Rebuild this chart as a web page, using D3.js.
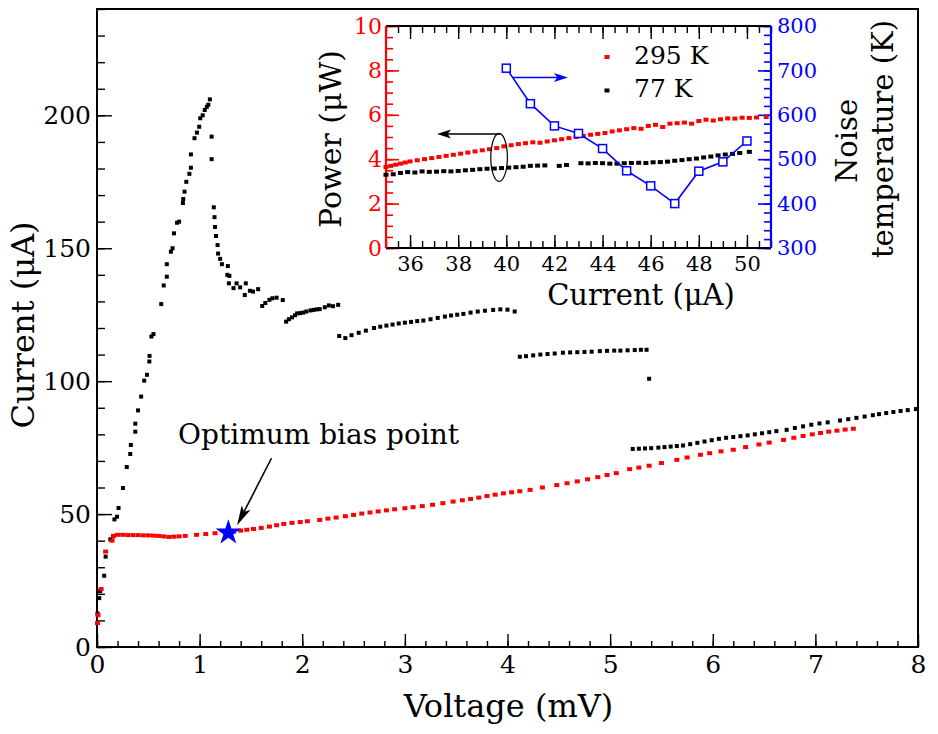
<!DOCTYPE html>
<html><head><meta charset="utf-8">
<script src="https://cdn.jsdelivr.net/npm/d3@7"></script>
<style>
body{margin:0;background:#fff}
svg{display:block}
</style>
</head><body>
<svg id="c" width="938" height="734" font-family="DejaVu Serif, Liberation Serif, serif"></svg>
<script>
// ---------- Main plot data (I–V curves) ----------
const unpumpedV = [0.005,0.022,0.03,0.07,0.084,0.13,0.156,0.17,0.195,0.21,0.253,0.29,0.324,0.33,0.373,0.373,0.40,0.43,0.46,0.487,0.51,0.512,0.53,0.55,0.626,0.65,0.68,0.68,0.72,0.736,0.75,0.78,0.80,0.837,0.84,0.853,0.87,0.90,0.915,0.915,0.95,0.974,0.996,1.006,1.03,1.05,1.07,1.085,1.10,1.117,1.117,1.138,1.145,1.15,1.16,1.175,1.18,1.20,1.217,1.27,1.275,1.29,1.285,1.33,1.36,1.395,1.44,1.45,1.49,1.52,1.57,1.61,1.64,1.68,1.71,1.75,1.81,
1.843,1.87,1.90,1.93,1.95,1.98,2.01,2.04,2.08,2.11,2.14,2.17,2.22,2.26,2.30,2.35,
2.36,2.42,2.48,2.55,2.62,2.70,2.76,2.82,2.88,2.94,3.00,3.06,3.12,3.18,3.25,3.32,3.39,3.45,3.51,3.57,3.64,3.71,3.78,3.86,3.93,4.00,4.07,
4.12,4.18,4.25,4.32,4.39,4.46,4.54,4.61,4.68,4.75,4.82,4.90,4.97,5.04,5.10,5.17,5.24,5.30,5.355,
5.38,
5.22,5.28,5.34,5.40,5.47,5.53,5.59,5.65,5.71,5.78,5.85,5.92,5.99,6.06,6.13,6.20,6.27,6.34,6.41,6.48,6.55,6.62,6.72,6.80,6.88,6.96,7.04,7.12,7.24,7.32,7.40,7.48,7.56,7.62,7.69,7.76,7.83,7.90,7.98];
const unpumpedI = [12.6,18.4,21,26.8,34,40.5,41.6,48,49,52.3,59.8,67.7,72.6,76,81,84,89,94.2,100.2,102.4,107.4,109.5,116.8,117.7,129,136,139.3,144,148.7,150,155.6,159.6,160,167,168.5,171.3,175,178,180.3,185.3,191.4,193.5,195.7,198.9,200,202,203.2,204,206,192,183.5,165.4,161.7,158,154.6,151.2,148,146,144,140,143.3,139.6,136.8,135,136.8,135.3,132.4,136.8,134,133.7,134.6,128.3,129.4,130.6,131.2,131.4,130.5,
122.4,123.3,124,124.8,125.5,125.6,125.8,126.2,126.6,126.8,127,127.1,127.8,128.5,128.2,128.7,
117,116.2,117.3,118.2,119,120,120.5,120.9,121.3,121.7,122,122.3,122.6,122.8,123.3,123.8,124.3,124.7,125,125.3,125.8,126.2,126.5,126.8,127,126.9,126.2,
109.2,109.4,109.7,110,110.2,110.4,110.7,110.8,110.9,111,111.1,111.3,111.4,111.5,111.5,111.6,111.7,111.8,111.8,
100.9,
74.5,74.6,74.7,74.8,75,75.2,75.4,75.6,75.8,76.3,76.8,77.3,77.8,78.3,78.7,79,79.3,79.6,80,80.4,80.8,81.2,81.7,82.4,83,83.6,84.1,84.5,85.2,85.7,86.2,86.7,87.2,87.6,88,88.4,88.8,89.1,89.5];

const pumpedV = [0.005,0.01,0.04,0.084,0.146,0.16,0.2,0.25,0.3,0.35,0.4,0.45,0.5,0.55,0.6,0.65,0.7,0.75,0.8,0.86,0.97,1.06,1.15,1.25,1.33,1.40,1.46,1.525,1.6,1.68,1.75,1.82,1.9,1.98,2.05,2.17,2.25,2.33,2.42,2.5,2.58,2.66,2.74,2.82,2.90,3.0,3.08,3.17,3.27,3.37,3.47,3.56,3.64,3.72,3.80,3.88,3.96,4.04,4.12,4.22,4.34,4.48,4.58,4.68,4.78,4.88,4.97,5.06,5.19,5.28,5.38,5.5,5.65,5.75,5.88,5.97,6.08,6.2,6.32,6.45,6.55,6.69,6.79,6.88,6.97,7.05,7.13,7.21,7.29,7.37];
const pumpedI = [9,12,21.8,35.9,40,41.8,42.2,42.2,42.1,42.1,42.1,42.0,42,41.9,41.8,41.6,41.4,41.5,41.6,41.8,42.2,42.5,42.8,43.1,43.4,43.8,44.1,44.4,44.8,45.3,45.8,46.3,46.7,47,47.3,47.8,48.3,48.7,49.2,49.7,50.2,50.6,51,51.4,51.8,52.2,52.6,53,53.5,54.1,54.7,55.2,55.7,56.2,56.8,57.3,57.8,58.2,58.6,59.1,60,60.9,61.6,62.3,63.1,63.9,64.7,65.4,66.9,67.5,68.2,69.2,70.4,71.3,72.3,72.9,73.6,74.2,75.2,76.2,76.9,77.9,78.7,79.4,80,80.5,81,81.4,81.8,82.1];

const optimumV = 1.28, optimumI = 43;
const mainXTicks = [0,1,2,3,4,5,6,7,8];
const mainYTicks = [0,50,100,150,200];

// ---------- Inset data ----------
const insetCurrent295 = [35.0,35.2,35.4,35.6,35.8,36.0,36.3,36.6,36.9,37.2,37.5,37.8,38.1,38.4,38.7,39.0,39.3,39.6,39.9,40.2,40.5,40.8,41.1,41.4,41.7,42.0,42.3,42.6,42.9,43.2,43.5,43.8,44.1,44.4,44.7,45.0,45.3,45.6,45.9,46.2,46.5,46.8,47.1,47.4,47.7,48.0,48.3,48.6,48.9,49.2,49.5,49.8,50.1,50.4,50.8];
const insetPower295   = [3.65,3.7,3.75,3.8,3.85,3.9,3.95,4.0,4.05,4.1,4.15,4.2,4.25,4.3,4.35,4.4,4.45,4.5,4.58,4.63,4.68,4.72,4.76,4.74,4.8,4.85,4.9,4.95,5.0,5.05,5.1,5.14,5.18,5.25,5.3,5.35,5.4,5.37,5.5,5.55,5.45,5.6,5.62,5.65,5.6,5.72,5.78,5.74,5.8,5.84,5.83,5.87,5.86,5.88,5.9];
const insetCurrent77 = [35.0,35.3,35.6,35.9,36.2,36.5,36.8,37.1,37.4,37.7,38.0,38.3,38.6,38.9,39.2,39.5,39.8,40.1,40.4,40.7,41.0,41.3,41.6,42.2,42.5,43.1,43.4,43.7,44.0,44.3,44.6,44.9,45.2,45.5,45.8,46.1,46.4,46.7,47.0,47.3,47.6,47.9,48.2,48.5,48.8,49.1,49.4,49.7,50.1];
const insetPower77   = [3.3,3.32,3.38,3.42,3.4,3.45,3.43,3.44,3.46,3.45,3.47,3.5,3.52,3.55,3.57,3.58,3.6,3.62,3.64,3.66,3.7,3.71,3.72,3.7,3.74,3.82,3.81,3.83,3.82,3.8,3.8,3.82,3.83,3.84,3.83,3.86,3.87,3.89,3.93,3.96,4.0,4.03,4.08,4.12,4.17,4.21,4.24,4.28,4.33];
const noiseCurrent = [40,41,42,43,44,45,46,47,48,49,50];
const noiseTemp    = [705,625,575,558,524,474,440,400,473,494,541];
const insetXTicks = [36,38,40,42,44,46,48,50];
const insetPowerTicks = [0,2,4,6,8,10];
const insetNoiseTicks = [300,400,500,600,700,800];

// ---------- Drawing ----------
const FONT = "DejaVu Serif, Liberation Serif, serif";
const svg = d3.select("#c");
const x = d3.scaleLinear().domain([0,8]).range([97,918]);
const y = d3.scaleLinear().domain([0,240]).range([647,9]);

function styleAxis(g, color, sw){
  g.attr("font-family", FONT);
  g.select(".domain").remove();
  g.selectAll(".tick line").attr("stroke", color).attr("stroke-width", sw);
  g.selectAll(".tick text").attr("fill", color).attr("font-family", FONT);
}
function txt(){ return svg.append("text").attr("font-family", FONT).attr("fill","#000"); }

// main minor ticks
svg.append("g").attr("transform",`translate(${x(0)},0)`)
  .call(d3.axisLeft(y).tickValues(d3.range(0,241,10)).tickSize(-8).tickFormat(""))
  .call(g=>styleAxis(g,"#000",1.4));
svg.append("g").attr("transform",`translate(0,${y(0)})`)
  .call(d3.axisBottom(x).tickValues(d3.range(0,8.001,0.2)).tickSize(-6).tickFormat(""))
  .call(g=>styleAxis(g,"#000",1.4));
// main major ticks
svg.append("g").attr("transform",`translate(${x(0)},0)`)
  .call(d3.axisLeft(y).tickValues(mainYTicks).tickSize(-15).tickPadding(6).tickFormat(d3.format("d")))
  .call(g=>styleAxis(g,"#000",1.4))
  .call(g=>g.selectAll(".tick text").attr("font-size",25));
svg.append("g").attr("transform",`translate(0,${y(0)})`)
  .call(d3.axisBottom(x).tickValues(mainXTicks).tickSize(-13).tickPadding(8).tickFormat(d3.format("d")))
  .call(g=>styleAxis(g,"#000",1.4))
  .call(g=>g.selectAll(".tick text").attr("font-size",25));

// frame
svg.append("rect").attr("x",x(0)).attr("y",y(240)).attr("width",x(8)-x(0)).attr("height",y(0)-y(240))
  .attr("fill","none").attr("stroke","#000").attr("stroke-width",2);

// axis titles
txt().attr("x",(x(0)+x(8))/2+1).attr("y",717).attr("text-anchor","middle")
  .attr("font-size",32).text("Voltage (mV)");
txt().attr("transform","translate(34,325) rotate(-90)").attr("text-anchor","middle")
  .attr("font-size",32).text("Current (μA)");

// data: black (unpumped)
svg.append("g").selectAll("rect").data(unpumpedV.map((v,i)=>[v,unpumpedI[i]])).join("rect")
  .attr("x",d=>x(d[0])-2).attr("y",d=>y(d[1])-2).attr("width",4).attr("height",4).attr("fill","#000");
// data: red (pumped)
svg.append("g").selectAll("rect").data(pumpedV.map((v,i)=>[v,pumpedI[i]])).join("rect")
  .attr("x",d=>x(d[0])-2.5).attr("y",d=>y(d[1])-2).attr("width",5).attr("height",4).attr("fill","#ff0000");

// optimum star
svg.append("path").attr("d",d3.symbol(d3.symbolStar,205)())
  .attr("transform",`translate(${x(optimumV)},${y(optimumI)})`).attr("fill","#0000ff");

// annotation arrow + text
function arrow(x1,y1,x2,y2,color,headLen,headW,sw){
  const ang = Math.atan2(y2-y1,x2-x1);
  const bx = x2 - headLen*Math.cos(ang), by = y2 - headLen*Math.sin(ang);
  svg.append("line").attr("x1",x1).attr("y1",y1).attr("x2",bx+(headLen*0.3)*Math.cos(ang)).attr("y2",by+(headLen*0.3)*Math.sin(ang))
    .attr("stroke",color).attr("stroke-width",sw);
  const px = -Math.sin(ang), py = Math.cos(ang);
  svg.append("path").attr("d",`M${x2},${y2}L${bx+px*headW/2},${by+py*headW/2}L${bx+headLen*0.25*Math.cos(ang)},${by+headLen*0.25*Math.sin(ang)}L${bx-px*headW/2},${by-py*headW/2}Z`)
    .attr("fill",color);
}
arrow(x(1.70),y(71),x(1.365),y(45.8),"#000",20,10,1.6);
txt().attr("x",x(0.79)).attr("y",y(76.5)).attr("font-size",28).text("Optimum bias point");

// ---------- Inset ----------
const xi = d3.scaleLinear().domain([35,51]).range([386,771]);
const yp = d3.scaleLinear().domain([0,10]).range([248,26]);
const yn = d3.scaleLinear().domain([300,800]).range([248,26]);

svg.append("rect").attr("x",xi(35)).attr("y",yp(10)).attr("width",xi(51)-xi(35)).attr("height",yp(0)-yp(10)).attr("fill","#fff");

// bottom / top ticks
svg.append("g").attr("transform",`translate(0,${yp(0)})`)
  .call(d3.axisBottom(xi).tickValues(d3.range(35,51.001,0.5)).tickSize(-7).tickFormat(""))
  .call(g=>styleAxis(g,"#000",1.4));
svg.append("g").attr("transform",`translate(0,${yp(0)})`)
  .call(d3.axisBottom(xi).tickValues(insetXTicks).tickSize(-13).tickPadding(8).tickFormat(d3.format("d")))
  .call(g=>styleAxis(g,"#000",1.4))
  .call(g=>g.selectAll(".tick text").attr("font-size",21));
svg.append("g").attr("transform",`translate(0,${yp(10)})`)
  .call(d3.axisTop(xi).tickValues(d3.range(35,51.001,0.5)).tickSize(-7).tickFormat(""))
  .call(g=>styleAxis(g,"#000",1.4));
svg.append("g").attr("transform",`translate(0,${yp(10)})`)
  .call(d3.axisTop(xi).tickValues(insetXTicks).tickSize(-13).tickFormat(""))
  .call(g=>styleAxis(g,"#000",1.4));
// left (red)
svg.append("g").attr("transform",`translate(${xi(35)},0)`)
  .call(d3.axisLeft(yp).tickValues(d3.range(0,10.001,0.5)).tickSize(-7).tickFormat(""))
  .call(g=>styleAxis(g,"#ff0000",1.6));
svg.append("g").attr("transform",`translate(${xi(35)},0)`)
  .call(d3.axisLeft(yp).tickValues(insetPowerTicks).tickSize(-13).tickPadding(4).tickFormat(d3.format("d")))
  .call(g=>styleAxis(g,"#ff0000",1.6))
  .call(g=>g.selectAll(".tick text").attr("font-size",22));
// right (blue)
svg.append("g").attr("transform",`translate(${xi(51)},0)`)
  .call(d3.axisRight(yn).tickValues(d3.range(300,800.001,20)).tickSize(-7).tickFormat(""))
  .call(g=>styleAxis(g,"#0000ff",1.6));
svg.append("g").attr("transform",`translate(${xi(51)},0)`)
  .call(d3.axisRight(yn).tickValues(insetNoiseTicks).tickSize(-13).tickPadding(6).tickFormat(d3.format("d")))
  .call(g=>styleAxis(g,"#0000ff",1.6))
  .call(g=>g.selectAll(".tick text").attr("font-size",21));

// inset frame lines
svg.append("line").attr("x1",xi(35)).attr("x2",xi(51)).attr("y1",yp(10)).attr("y2",yp(10)).attr("stroke","#000").attr("stroke-width",2);
svg.append("line").attr("x1",xi(35)).attr("x2",xi(51)).attr("y1",yp(0)).attr("y2",yp(0)).attr("stroke","#000").attr("stroke-width",2);
svg.append("line").attr("x1",xi(35)).attr("x2",xi(35)).attr("y1",yp(10)).attr("y2",yp(0)).attr("stroke","#ff0000").attr("stroke-width",2.2);
svg.append("line").attr("x1",xi(51)).attr("x2",xi(51)).attr("y1",yp(10)).attr("y2",yp(0)).attr("stroke","#0000ff").attr("stroke-width",2.2);

// inset data
svg.append("g").selectAll("rect").data(insetCurrent295.map((c,i)=>[c,insetPower295[i]])).join("rect")
  .attr("x",d=>xi(d[0])-2.5).attr("y",d=>yp(d[1])-2).attr("width",5).attr("height",4).attr("fill","#ff0000");
svg.append("g").selectAll("rect").data(insetCurrent77.map((c,i)=>[c,insetPower77[i]])).join("rect")
  .attr("x",d=>xi(d[0])-2.5).attr("y",d=>yp(d[1])-2).attr("width",5).attr("height",4).attr("fill","#000");

const noisePts = noiseCurrent.map((c,i)=>[c,noiseTemp[i]]);
svg.append("path").datum(noisePts)
  .attr("d",d3.line().x(d=>xi(d[0])).y(d=>yn(d[1])))
  .attr("fill","none").attr("stroke","#0000ff").attr("stroke-width",1.6);
svg.append("g").selectAll("rect").data(noisePts).join("rect")
  .attr("x",d=>xi(d[0])-4).attr("y",d=>yn(d[1])-4).attr("width",8).attr("height",8)
  .attr("fill","#fff").attr("stroke","#0000ff").attr("stroke-width",1.5);

// inset annotations
svg.append("ellipse").attr("cx",xi(39.7)).attr("cy",yp(4.08)).attr("rx",8.3).attr("ry",24)
  .attr("fill","none").attr("stroke","#000").attr("stroke-width",1.2);
arrow(xi(39.75),yp(5.13),xi(37.12),yp(5.13),"#000",14,9,1.5);
arrow(xi(40.28),yn(684),xi(42.56),yn(684),"#0000ff",14,9,1.5);

// legend
const legendLabels = ["295 K","77 K"];
const legendColors = ["#ff0000","#000"];
legendLabels.forEach((lab,i)=>{
  const cy = 57 + i*33.5;
  svg.append("rect").attr("x",607-2.5).attr("y",cy-2).attr("width",5).attr("height",4).attr("fill",legendColors[i]);
  txt().attr("x",634).attr("y",cy+6.5).attr("font-size",25).text(lab);
});

// inset axis titles
txt().attr("x",641).attr("y",305).attr("text-anchor","middle").attr("font-size",29).text("Current (μA)");
txt().attr("transform","translate(341,139) rotate(-90)").attr("text-anchor","middle").attr("font-size",30).text("Power (μW)");
txt().attr("transform","translate(857,141) rotate(-90)").attr("text-anchor","middle").attr("font-size",29).text("Noise");
txt().attr("transform","translate(893,139) rotate(-90)").attr("text-anchor","middle").attr("font-size",29).text("temperature (K)");
</script>
</body></html>
